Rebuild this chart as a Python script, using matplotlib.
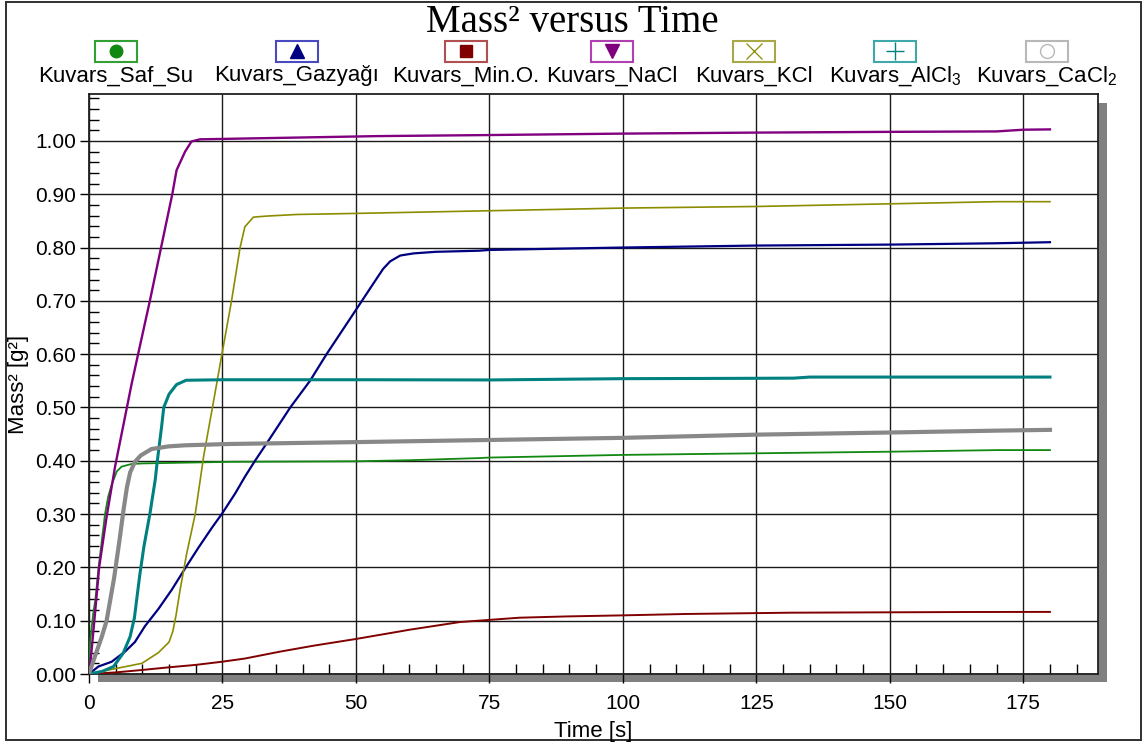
import matplotlib
matplotlib.use("Agg")
import matplotlib.pyplot as plt
from matplotlib.patches import Rectangle
from matplotlib.lines import Line2D
from matplotlib.ticker import MultipleLocator, FormatStrFormatter

plt.rcParams['font.family'] = ['Liberation Sans', 'DejaVu Sans']
plt.rcParams['mathtext.fontset'] = 'custom'
plt.rcParams['mathtext.rm'] = 'Liberation Sans'
plt.rcParams['mathtext.it'] = 'Liberation Sans:italic'

# ---- measured series: time [s] and mass^2 [g^2] ----
saf_su_t = [0, 0.2, 0.8, 1.2, 1.8, 2.4, 3.0, 3.6, 4.25, 5.2, 6.1, 8.0, 10, 26.4, 50, 60, 73, 75,
            100, 125, 150, 170, 180]
saf_su_m = [0, 0.06, 0.114, 0.14, 0.20, 0.25, 0.30, 0.333, 0.355, 0.38, 0.389, 0.394, 0.395,
            0.398, 0.399, 0.401, 0.405, 0.406, 0.411, 0.414, 0.417, 0.420, 0.420]

gazyagi_t = [0, 1.75, 4.25, 6.75, 8.6, 10.5, 13, 15.5, 18, 20.5, 23, 25, 27.4, 29.2, 31.1, 33.9,
             37.7, 41.4, 44.5, 50, 53.3, 55.1, 56.4, 58.3, 60.8, 65, 73, 75, 100, 125, 150,
             170, 180]
gazyagi_m = [0, 0.014, 0.023, 0.042, 0.06, 0.09, 0.122, 0.158, 0.198, 0.237, 0.274, 0.302, 0.339,
             0.37, 0.40, 0.442, 0.50, 0.55, 0.60, 0.683, 0.733, 0.760, 0.774, 0.785, 0.789,
             0.792, 0.794, 0.7955, 0.800, 0.8037, 0.8055, 0.808, 0.810]

min_o_t = [0, 5, 9.9, 14.9, 19.9, 24.9, 29.2, 35.8, 42, 50, 58.3, 60, 69.5, 75, 80.6, 89.5, 100,
           111.8, 131.4, 165, 180]
min_o_m = [0, 0.003, 0.0075, 0.0125, 0.017, 0.023, 0.029, 0.042, 0.053, 0.0657, 0.080, 0.083,
           0.0975, 0.1015, 0.1056, 0.108, 0.110, 0.1126, 0.115, 0.1163, 0.1165]

nacl_t = [0, 0.2, 1.0, 1.9, 3.3, 4.9, 6.4, 8.0, 9.2, 11.4, 13.5, 15.6, 16.4, 18.0, 19.2, 20.8,
          32, 54, 75, 100, 125, 150, 170, 175, 180]
nacl_m = [0, 0.014, 0.1, 0.2, 0.295, 0.39, 0.465, 0.545, 0.60, 0.70, 0.80, 0.90, 0.945, 0.98,
          0.999, 1.003, 1.005, 1.009, 1.011, 1.0137, 1.0156, 1.017, 1.0178, 1.021, 1.0216]

kcl_t = [0, 4.9, 9.9, 13, 15, 15.7, 16.3, 17.1, 18.3, 19.9, 21.5, 23.3, 24.9, 26.7, 28.3, 29.2,
         30.8, 33.3, 38.9, 50, 75, 100, 125, 150, 170, 180]
kcl_m = [0, 0.01, 0.02, 0.04, 0.06, 0.08, 0.11, 0.16, 0.226, 0.30, 0.41, 0.51, 0.60, 0.70, 0.80,
         0.839, 0.857, 0.859, 0.862, 0.864, 0.869, 0.874, 0.877, 0.882, 0.886, 0.886]

alcl3_t = [0, 2.5, 4.6, 6.4, 7.7, 8.5, 9.5, 10.3, 11.4, 12.4, 12.8, 13.6, 14.0, 15.0, 16.4, 18.2,
           25, 50, 75, 100, 125, 132, 135, 180]
alcl3_m = [0, 0.005, 0.014, 0.039, 0.07, 0.105, 0.185, 0.24, 0.30, 0.364, 0.40, 0.464, 0.50,
           0.525, 0.543, 0.551, 0.552, 0.552, 0.5516, 0.554, 0.5547, 0.555, 0.557, 0.557]

cacl2_t = [0, 0.8, 2.4, 3.3, 4.7, 5.7, 6.5, 7.1, 7.7, 8.6, 9.7, 11.7, 14.9, 18, 26.4, 50, 75,
           100, 125, 150, 170, 180]
cacl2_m = [0, 0.024, 0.07, 0.10, 0.18, 0.25, 0.31, 0.35, 0.378, 0.398, 0.41, 0.422, 0.427, 0.429,
           0.4315, 0.435, 0.439, 0.443, 0.449, 0.453, 0.4565, 0.458]

labels = ["Kuvars_Saf_Su", "Kuvars_Gazyağı", "Kuvars_Min.O.", "Kuvars_NaCl", "Kuvars_KCl",
          "Kuvars_AlCl$_3$", "Kuvars_CaCl$_2$"]

series = [(saf_su_t, saf_su_m), (gazyagi_t, gazyagi_m), (min_o_t, min_o_m), (nacl_t, nacl_m),
          (kcl_t, kcl_m), (alcl3_t, alcl3_m), (cacl2_t, cacl2_m)]

colors = ["#118811", "#000080", "#800000", "#800080", "#8c8c00", "#008080", "#888888"]
box_edges = ["#33a033", "#4a4ac0", "#b05050", "#b040b0", "#a8a848", "#40a8a8", "#b8b8b8"]
widths = [1.3, 1.6, 1.4, 1.7, 1.2, 2.2, 3.0]
markers = [dict(marker='o', ms=9, mfc="#118811", mec="#118811"),
           dict(marker='^', ms=10, mfc="#000080", mec="#000080"),
           dict(marker='s', ms=9, mfc="#800000", mec="#800000"),
           dict(marker='v', ms=10, mfc="#800080", mec="#800080"),
           dict(marker='x', ms=11, mfc="none", mec="#8c8c00", mew=0.9),
           dict(marker='+', ms=13, mfc="none", mec="#008080", mew=1.0),
           dict(marker='o', ms=10, mfc="none", mec="#b8b8b8", mew=1.0)]

W, H = 1145, 742
fig = plt.figure(figsize=(W / 100, H / 100), dpi=100)
fig.patch.set_facecolor("white")


def fx(px):
    return px / W


def fy(py):
    return 1 - py / H


# outer frame
fig.patches.append(Rectangle((fx(6), fy(740)), fx(1141) - fx(6), fy(2) - fy(740),
                             transform=fig.transFigure, fill=False, edgecolor="#303030",
                             lw=1.4, zorder=-2))
# drop shadow behind the plotting area
fig.patches.append(Rectangle((fx(98), fy(682)), fx(1107) - fx(98), fy(103) - fy(682),
                             transform=fig.transFigure, facecolor="#808080",
                             edgecolor="none", zorder=-1))

ax = fig.add_axes([fx(89), fy(674), fx(1098) - fx(89), fy(94) - fy(674)])
ax.set_zorder(1)
ax.set_facecolor("white")
ax.set_xlim(0, 189)
ax.set_ylim(0, 1.088)

for (t, m), c, lw in zip(series, colors, widths):
    ax.plot(t, m, color=c, lw=lw, zorder=3, solid_joinstyle='round')

ax.xaxis.set_major_locator(MultipleLocator(25))
ax.xaxis.set_minor_locator(MultipleLocator(5))
ax.yaxis.set_major_locator(MultipleLocator(0.1))
ax.yaxis.set_minor_locator(MultipleLocator(0.02))
ax.yaxis.set_major_formatter(FormatStrFormatter('%.2f'))
ax.grid(True, which='major', color="#1a1a1a", lw=1.0, zorder=1)
ax.set_axisbelow(True)
ax.tick_params(which='major', direction='out', length=6.5, width=1.0, labelsize=15, pad=3)
ax.tick_params(which='minor', direction='in', length=7.5, width=1.0)
ax.tick_params(axis='x', which='major', pad=8)
for s in ax.spines.values():
    s.set_linewidth(1.3)
    s.set_color("#202020")

ax.set_xlabel("Time [s]", fontsize=16, labelpad=6)
ax.set_ylabel("Mass² [g²]", fontsize=16, labelpad=4)

fig.text(0.5, fy(32), "Mass² versus Time", family="Liberation Serif", fontsize=28,
         ha="center", va="baseline")

# legend row: coloured box with marker, name underneath
box_cx = [116, 297, 466, 612, 754, 895, 1047]
box_w, box_h = 42, 21
for cx, lab, ec, mk in zip(box_cx, labels, box_edges, markers):
    fig.patches.append(Rectangle((fx(cx - box_w / 2), fy(51 + box_h / 2)), fx(box_w),
                                 box_h / H, transform=fig.transFigure, facecolor="white",
                                 edgecolor=ec, lw=1.5, zorder=2))
    fig.lines.append(Line2D([fx(cx)], [fy(51)], transform=fig.transFigure, ls='none',
                            zorder=3, **mk))
    fig.text(fx(cx), fy(76), lab, fontsize=16, ha="center", va="center")

fig.savefig("out.png", dpi=100, facecolor="white")
